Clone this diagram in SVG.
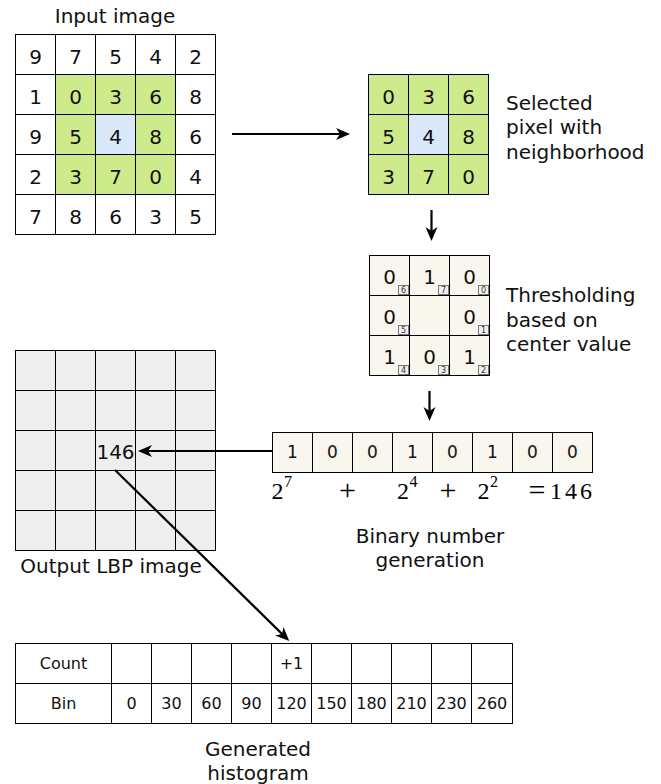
<svg xmlns="http://www.w3.org/2000/svg" width="661" height="784" viewBox="0 0 661 784">
  <style>
    .cell { stroke: #000; stroke-width: 1; }
    .w { fill: #ffffff; }
    .g { fill: #cdeb8b; }
    .b { fill: #dae8fc; }
    .c { fill: #f9f7ed; }
    .o { fill: #eeeeee; }
    text { font-family: "DejaVu Sans", Verdana, sans-serif; fill: #111; }
    .num { font-size: 20px; text-anchor: middle; }
    .bit { font-size: 17px; text-anchor: middle; }
    .hist { font-size: 16px; text-anchor: middle; }
    .lbl { font-size: 20px; }
    .mid { text-anchor: middle; }
    .badge { fill: #f0f0f0; stroke: #777; stroke-width: 1; }
    .bt { font-size: 8px; text-anchor: middle; fill: #333; }
    text.m { font-family: "Liberation Serif", "Times New Roman", serif; fill: #000; font-size: 24px; }
    text.sup { font-size: 16px; }
    text.op { font-size: 30px; text-anchor: middle; }
    .conn { stroke: #000; stroke-width: 2.2; fill: none; marker-end: url(#arrow); }
  </style>
  <defs>
    <marker id="arrow" markerUnits="userSpaceOnUse" markerWidth="15" markerHeight="13" refX="10" refY="6.5" orient="auto">
      <path d="M0,0.5 L14,6.5 L0,12.5 L4,6.5 Z" fill="#000"/>
    </marker>
  </defs>

  <!-- 5x5 input image -->
  <g id="input-image">
    <text class="lbl mid" x="115" y="23">Input image</text>
    <g class="cell">
      <rect class="w" x="15.5" y="34.5" width="40" height="40"/>
      <rect class="w" x="55.5" y="34.5" width="40" height="40"/>
      <rect class="w" x="95.5" y="34.5" width="40" height="40"/>
      <rect class="w" x="135.5" y="34.5" width="40" height="40"/>
      <rect class="w" x="175.5" y="34.5" width="40" height="40"/>
      <rect class="w" x="15.5" y="74.5" width="40" height="40"/>
      <rect class="g" x="55.5" y="74.5" width="40" height="40"/>
      <rect class="g" x="95.5" y="74.5" width="40" height="40"/>
      <rect class="g" x="135.5" y="74.5" width="40" height="40"/>
      <rect class="w" x="175.5" y="74.5" width="40" height="40"/>
      <rect class="w" x="15.5" y="114.5" width="40" height="40"/>
      <rect class="g" x="55.5" y="114.5" width="40" height="40"/>
      <rect class="b" x="95.5" y="114.5" width="40" height="40"/>
      <rect class="g" x="135.5" y="114.5" width="40" height="40"/>
      <rect class="w" x="175.5" y="114.5" width="40" height="40"/>
      <rect class="w" x="15.5" y="154.5" width="40" height="40"/>
      <rect class="g" x="55.5" y="154.5" width="40" height="40"/>
      <rect class="g" x="95.5" y="154.5" width="40" height="40"/>
      <rect class="g" x="135.5" y="154.5" width="40" height="40"/>
      <rect class="w" x="175.5" y="154.5" width="40" height="40"/>
      <rect class="w" x="15.5" y="194.5" width="40" height="40"/>
      <rect class="w" x="55.5" y="194.5" width="40" height="40"/>
      <rect class="w" x="95.5" y="194.5" width="40" height="40"/>
      <rect class="w" x="135.5" y="194.5" width="40" height="40"/>
      <rect class="w" x="175.5" y="194.5" width="40" height="40"/>
    </g>
    <text class="num" x="35.5" y="64">9</text><text class="num" x="75.5" y="64">7</text><text class="num" x="115.5" y="64">5</text><text class="num" x="155.5" y="64">4</text><text class="num" x="195.5" y="64">2</text>
    <text class="num" x="35.5" y="104">1</text><text class="num" x="75.5" y="104">0</text><text class="num" x="115.5" y="104">3</text><text class="num" x="155.5" y="104">6</text><text class="num" x="195.5" y="104">8</text>
    <text class="num" x="35.5" y="144">9</text><text class="num" x="75.5" y="144">5</text><text class="num" x="115.5" y="144">4</text><text class="num" x="155.5" y="144">8</text><text class="num" x="195.5" y="144">6</text>
    <text class="num" x="35.5" y="184">2</text><text class="num" x="75.5" y="184">3</text><text class="num" x="115.5" y="184">7</text><text class="num" x="155.5" y="184">0</text><text class="num" x="195.5" y="184">4</text>
    <text class="num" x="35.5" y="224">7</text><text class="num" x="75.5" y="224">8</text><text class="num" x="115.5" y="224">6</text><text class="num" x="155.5" y="224">3</text><text class="num" x="195.5" y="224">5</text>
  </g>

  <!-- 3x3 neighbourhood around the centre pixel -->
  <g id="neighborhood">
    <g class="cell">
      <rect class="g" x="368.5" y="74.5" width="40" height="40"/>
      <rect class="g" x="408.5" y="74.5" width="40" height="40"/>
      <rect class="g" x="448.5" y="74.5" width="40" height="40"/>
      <rect class="g" x="368.5" y="114.5" width="40" height="40"/>
      <rect class="b" x="408.5" y="114.5" width="40" height="40"/>
      <rect class="g" x="448.5" y="114.5" width="40" height="40"/>
      <rect class="g" x="368.5" y="154.5" width="40" height="40"/>
      <rect class="g" x="408.5" y="154.5" width="40" height="40"/>
      <rect class="g" x="448.5" y="154.5" width="40" height="40"/>
    </g>
    <text class="num" x="388.5" y="104">0</text><text class="num" x="428.5" y="104">3</text><text class="num" x="468.5" y="104">6</text>
    <text class="num" x="388.5" y="144">5</text><text class="num" x="428.5" y="144">4</text><text class="num" x="468.5" y="144">8</text>
    <text class="num" x="388.5" y="184">3</text><text class="num" x="428.5" y="184">7</text><text class="num" x="468.5" y="184">0</text>
    <text class="lbl" x="506" y="109.5">Selected</text>
    <text class="lbl" x="506" y="134">pixel with</text>
    <text class="lbl" x="506" y="158.5">neighborhood</text>
  </g>

  <!-- thresholded neighbourhood with bit indices -->
  <g id="threshold">
    <g class="cell c">
      <rect x="369.5" y="255.5" width="40" height="40"/>
      <rect x="409.5" y="255.5" width="40" height="40"/>
      <rect x="449.5" y="255.5" width="40" height="40"/>
      <rect x="369.5" y="295.5" width="40" height="40"/>
      <rect x="409.5" y="295.5" width="40" height="40"/>
      <rect x="449.5" y="295.5" width="40" height="40"/>
      <rect x="369.5" y="335.5" width="40" height="40"/>
      <rect x="409.5" y="335.5" width="40" height="40"/>
      <rect x="449.5" y="335.5" width="40" height="40"/>
    </g>
    <text class="num" x="389.5" y="284">0</text><text class="num" x="429.5" y="284">1</text><text class="num" x="469.5" y="284">0</text>
    <text class="num" x="389.5" y="324">0</text><text class="num" x="469.5" y="324">0</text>
    <text class="num" x="389.5" y="364">1</text><text class="num" x="429.5" y="364">0</text><text class="num" x="469.5" y="364">1</text>
    <g>
      <rect class="badge" x="398.5" y="285.5" width="10" height="9"/><text class="bt" x="403.5" y="293">6</text>
      <rect class="badge" x="438.5" y="285.5" width="10" height="9"/><text class="bt" x="443.5" y="293">7</text>
      <rect class="badge" x="478.5" y="285.5" width="10" height="9"/><text class="bt" x="483.5" y="293">0</text>
      <rect class="badge" x="398.5" y="325.5" width="10" height="9"/><text class="bt" x="403.5" y="333">5</text>
      <rect class="badge" x="478.5" y="325.5" width="10" height="9"/><text class="bt" x="483.5" y="333">1</text>
      <rect class="badge" x="398.5" y="365.5" width="10" height="9"/><text class="bt" x="403.5" y="373">4</text>
      <rect class="badge" x="438.5" y="365.5" width="10" height="9"/><text class="bt" x="443.5" y="373">3</text>
      <rect class="badge" x="478.5" y="365.5" width="10" height="9"/><text class="bt" x="483.5" y="373">2</text>
    </g>
    <text class="lbl" x="506" y="302">Thresholding</text>
    <text class="lbl" x="506" y="326.5">based on</text>
    <text class="lbl" x="506" y="351">center value</text>
  </g>

  <!-- 8-bit code and its decimal value -->
  <g id="binary-number">
    <g class="cell c">
      <rect x="272.5" y="432.5" width="40" height="40"/>
      <rect x="312.5" y="432.5" width="40" height="40"/>
      <rect x="352.5" y="432.5" width="40" height="40"/>
      <rect x="392.5" y="432.5" width="40" height="40"/>
      <rect x="432.5" y="432.5" width="40" height="40"/>
      <rect x="472.5" y="432.5" width="40" height="40"/>
      <rect x="512.5" y="432.5" width="40" height="40"/>
      <rect x="552.5" y="432.5" width="40" height="40"/>
    </g>
    <text class="bit" x="292.5" y="458">1</text>
    <text class="bit" x="332.5" y="458">0</text>
    <text class="bit" x="372.5" y="458">0</text>
    <text class="bit" x="412.5" y="458">1</text>
    <text class="bit" x="452.5" y="458">0</text>
    <text class="bit" x="492.5" y="458">1</text>
    <text class="bit" x="532.5" y="458">0</text>
    <text class="bit" x="572.5" y="458">0</text>
    <text class="m" x="271.5" y="499">2</text>
    <text class="m sup" x="284" y="487">7</text>
    <text class="m op" x="347.5" y="500">+</text>
    <text class="m" x="397" y="499">2</text>
    <text class="m sup" x="409.5" y="487">4</text>
    <text class="m op" x="448" y="500">+</text>
    <text class="m" x="477.5" y="499">2</text>
    <text class="m sup" x="490" y="487">2</text>
    <text class="m op" x="537" y="500">=</text>
    <text class="m" x="550" y="499" textLength="42" lengthAdjust="spacing">146</text>
    <text class="lbl mid" x="430" y="543">Binary number</text>
    <text class="lbl mid" x="430" y="567">generation</text>
  </g>

  <!-- 5x5 output LBP image -->
  <g id="output-lbp">
    <g class="cell o">
      <rect x="15.5" y="350.5" width="40" height="40"/><rect x="55.5" y="350.5" width="40" height="40"/><rect x="95.5" y="350.5" width="40" height="40"/><rect x="135.5" y="350.5" width="40" height="40"/><rect x="175.5" y="350.5" width="40" height="40"/>
      <rect x="15.5" y="390.5" width="40" height="40"/><rect x="55.5" y="390.5" width="40" height="40"/><rect x="95.5" y="390.5" width="40" height="40"/><rect x="135.5" y="390.5" width="40" height="40"/><rect x="175.5" y="390.5" width="40" height="40"/>
      <rect x="15.5" y="430.5" width="40" height="40"/><rect x="55.5" y="430.5" width="40" height="40"/><rect x="95.5" y="430.5" width="40" height="40"/><rect x="135.5" y="430.5" width="40" height="40"/><rect x="175.5" y="430.5" width="40" height="40"/>
      <rect x="15.5" y="470.5" width="40" height="40"/><rect x="55.5" y="470.5" width="40" height="40"/><rect x="95.5" y="470.5" width="40" height="40"/><rect x="135.5" y="470.5" width="40" height="40"/><rect x="175.5" y="470.5" width="40" height="40"/>
      <rect x="15.5" y="510.5" width="40" height="40"/><rect x="55.5" y="510.5" width="40" height="40"/><rect x="95.5" y="510.5" width="40" height="40"/><rect x="135.5" y="510.5" width="40" height="40"/><rect x="175.5" y="510.5" width="40" height="40"/>
    </g>
    <text class="num" x="115.5" y="459">146</text>
    <text class="lbl mid" x="111" y="573">Output LBP image</text>
  </g>

  <!-- histogram table -->
  <g id="histogram">
    <g class="cell w">
      <rect x="15.5" y="643.5" width="96" height="40"/>
      <rect x="111.5" y="643.5" width="40" height="40"/>
      <rect x="151.5" y="643.5" width="40" height="40"/>
      <rect x="191.5" y="643.5" width="40" height="40"/>
      <rect x="231.5" y="643.5" width="40" height="40"/>
      <rect x="271.5" y="643.5" width="40" height="40"/>
      <rect x="311.5" y="643.5" width="40" height="40"/>
      <rect x="351.5" y="643.5" width="40" height="40"/>
      <rect x="391.5" y="643.5" width="40" height="40"/>
      <rect x="431.5" y="643.5" width="40" height="40"/>
      <rect x="471.5" y="643.5" width="41" height="40"/>
      <rect x="15.5" y="683.5" width="96" height="40"/>
      <rect x="111.5" y="683.5" width="40" height="40"/>
      <rect x="151.5" y="683.5" width="40" height="40"/>
      <rect x="191.5" y="683.5" width="40" height="40"/>
      <rect x="231.5" y="683.5" width="40" height="40"/>
      <rect x="271.5" y="683.5" width="40" height="40"/>
      <rect x="311.5" y="683.5" width="40" height="40"/>
      <rect x="351.5" y="683.5" width="40" height="40"/>
      <rect x="391.5" y="683.5" width="40" height="40"/>
      <rect x="431.5" y="683.5" width="40" height="40"/>
      <rect x="471.5" y="683.5" width="41" height="40"/>
    </g>
    <text class="hist" x="63.5" y="669">Count</text>
    <text class="hist" x="291.5" y="669">+1</text>
    <text class="hist" x="63.5" y="709">Bin</text>
    <text class="hist" x="131.5" y="709">0</text>
    <text class="hist" x="171.5" y="709">30</text>
    <text class="hist" x="211.5" y="709">60</text>
    <text class="hist" x="251.5" y="709">90</text>
    <text class="hist" x="291.5" y="709">120</text>
    <text class="hist" x="331.5" y="709">150</text>
    <text class="hist" x="371.5" y="709">180</text>
    <text class="hist" x="411.5" y="709">210</text>
    <text class="hist" x="451.5" y="709">230</text>
    <text class="hist" x="492" y="709">260</text>
    <text class="lbl mid" x="258" y="756">Generated</text>
    <text class="lbl mid" x="258" y="780">histogram</text>
  </g>

  <!-- connectors -->
  <g id="connectors">
    <path class="conn" d="M232,134 H346"/>
    <path class="conn" d="M431.5,210 V237"/>
    <path class="conn" d="M429.5,391 V417"/>
    <path class="conn" d="M272,451 H142"/>
    <path class="conn" d="M115,470 L286.4,638.2"/>
  </g>
</svg>
